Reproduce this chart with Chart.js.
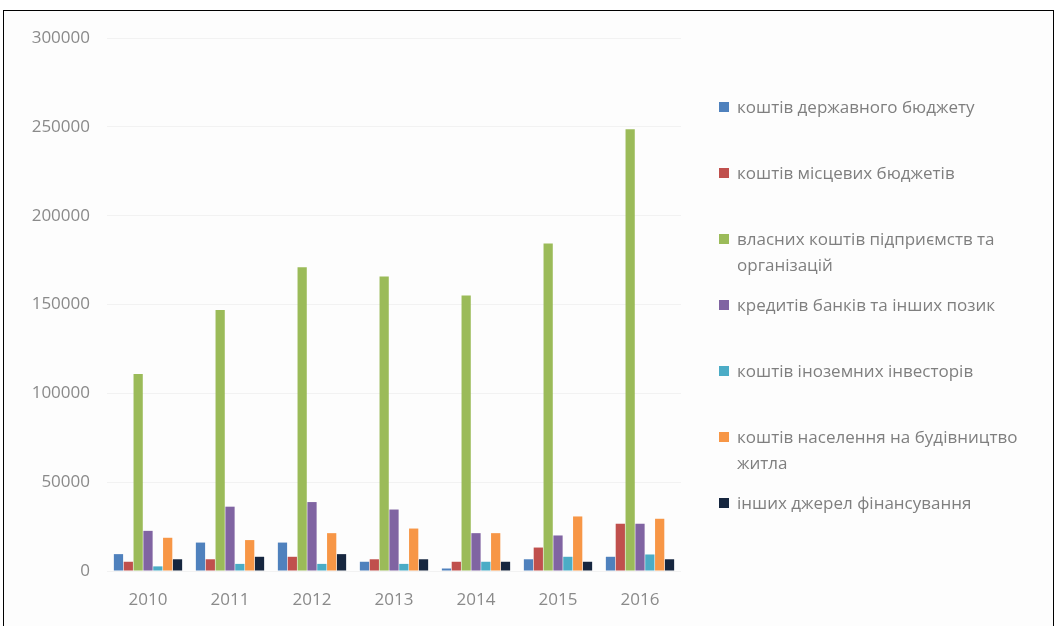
<!DOCTYPE html>
<html>
<head>
<meta charset="utf-8">
<script src="https://cdn.jsdelivr.net/npm/chart.js@4"></script>
<style>
  html, body { margin: 0; padding: 0; background: #ffffff; }
  #frame { position: absolute; left: 3px; top: 10px; width: 1049px; height: 640px;
           border: 1px solid #000; border-bottom: none; background: #fdfdfd; }
  #wrap { position: absolute; left: 0; top: 0; width: 700px; height: 626px; }
  #legend { position: absolute; left: 0; top: 0; width: 1059px; height: 626px; pointer-events: none;
            font-family: "Open Sans", sans-serif; font-size: 17px; color: #7f7f7f; }
  .li { position: absolute; left: 719px; width: 330px; line-height: 26px; }
  .sw { position: absolute; left: 0; top: 8px; width: 10px; height: 10px; }
  .tx { margin-left: 18px; display: block; }
</style>
</head>
<body>
<div id="frame"></div>
<div id="wrap"><canvas id="c"></canvas></div>
<div id="legend"></div>
<script>
const categories = ["2010", "2011", "2012", "2013", "2014", "2015", "2016"];
const seriesNames = [
  "коштів державного бюджету",
  "коштів місцевих бюджетів",
  "власних коштів підприємств та організацій",
  "кредитів банків та інших позик",
  "коштів іноземних інвесторів",
  "коштів населення на будівництво житла",
  "інших джерел фінансування"
];
const stateBudget   = [9500, 16000, 16000, 5200, 1400, 6600, 8000];
const localBudgets  = [5200, 6600, 8000, 6600, 5200, 13200, 26600];
const ownFunds      = [110900, 146900, 171000, 165700, 155000, 184300, 248600];
const bankCredits   = [22600, 36200, 38800, 34600, 21300, 20000, 26600];
const foreignInv    = [2600, 4000, 4000, 4000, 5200, 8000, 9300];
const population    = [18700, 17400, 21300, 23900, 21300, 30700, 29400];
const otherSources  = [6600, 8000, 9500, 6600, 5200, 5200, 6600];
const yTicks = [0, 50000, 100000, 150000, 200000, 250000, 300000];

const seriesValues = [stateBudget, localBudgets, ownFunds, bankCredits, foreignInv, population, otherSources];
const colors = ["#4f81bd", "#c0504d", "#9bbb59", "#8064a2", "#4bacc6", "#f79646", "#16263f"];

const datasets = seriesValues.map((vals, i) => ({
  label: seriesNames[i],
  data: vals,
  backgroundColor: colors[i],
  borderWidth: 0,
  barPercentage: 0.94,
  categoryPercentage: 0.84
}));

new Chart(document.getElementById("c"), {
  type: "bar",
  data: { labels: categories, datasets },
  options: {
    responsive: true,
    maintainAspectRatio: false,
    animation: false,
    layout: { padding: { left: 0, right: 19, top: 38, bottom: 0 } },
    plugins: { legend: { display: false }, tooltip: { enabled: false } },
    scales: {
      x: {
        grid: { display: false, drawTicks: false },
        border: { display: false },
        ticks: { color: "#8a8a8a", font: { family: "Open Sans", size: 17 }, padding: 19 },
        afterFit: s => { s.height = 55; }
      },
      y: {
        min: 0, max: 300000,
        afterBuildTicks: s => { s.ticks = yTicks.map(v => ({ value: v })); },
        grid: { color: "#f2f2f2", drawTicks: false },
        border: { display: false },
        ticks: {
          color: "#8a8a8a", font: { family: "Open Sans", size: 17 }, padding: 17,
          callback: v => String(v)
        },
        afterFit: s => { s.width = 107; }
      }
    }
  }
});

const lg = document.getElementById("legend");
seriesNames.forEach((name, i) => {
  const d = document.createElement("div");
  d.className = "li";
  d.style.top = (94 + i * 66) + "px";
  const sw = document.createElement("span");
  sw.className = "sw";
  sw.style.background = colors[i];
  const tx = document.createElement("span");
  tx.className = "tx";
  tx.textContent = name;
  d.appendChild(sw);
  d.appendChild(tx);
  lg.appendChild(d);
});
</script>
</body>
</html>
